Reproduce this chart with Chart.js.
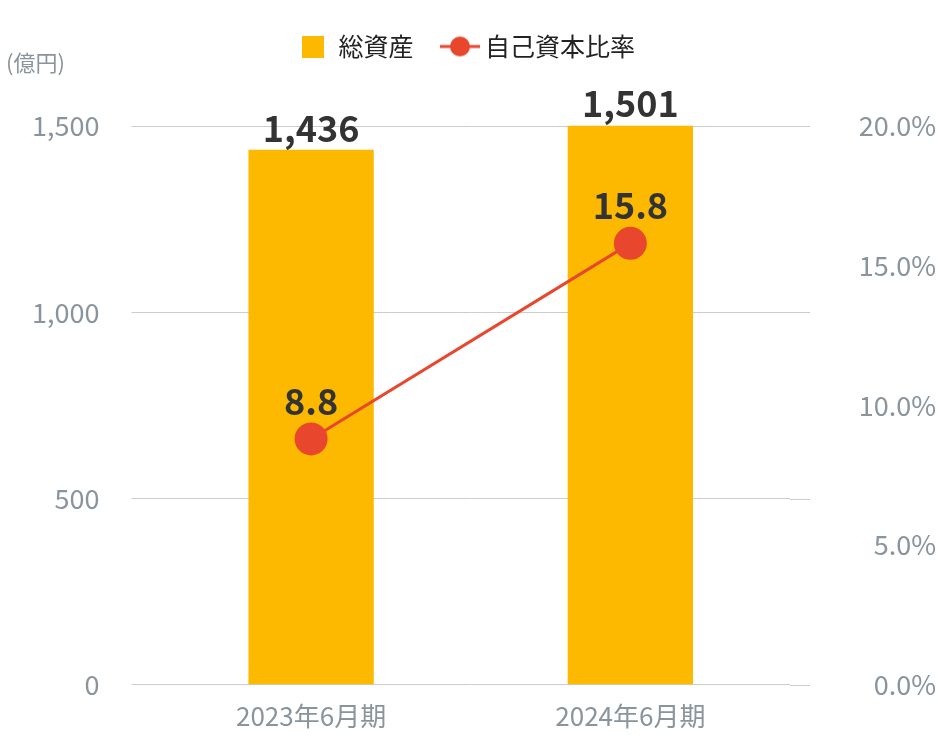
<!DOCTYPE html>
<html><head><meta charset="utf-8">
<script src="https://cdn.jsdelivr.net/npm/chart.js@4"></script>
<style>html,body{margin:0;background:#fff}#w{width:938px;height:740px}</style>
</head><body><div id="w"><canvas id="c"></canvas></div>
<script>
const categories = ["2023年6月期", "2024年6月期"];
const totalAssets = [1436, 1501];
const equityRatio = [8.8, 15.8];
const leftTicks = [0, 500, 1000, 1500];
const rightTicks = [0, 5, 10, 15, 20];
const F = "'Noto Sans CJK JP','Noto Sans',sans-serif";
const gray = "#8a949c";
const RED = "#E8472E";
const lineIcon = document.createElement("canvas");
lineIcon.width = 40; lineIcon.height = 22;
(() => { const c = lineIcon.getContext("2d"); c.strokeStyle = RED; c.lineWidth = 3; c.beginPath(); c.moveTo(0, 11); c.lineTo(40, 11); c.stroke(); c.fillStyle = RED; c.beginPath(); c.arc(20, 11, 10, 0, Math.PI * 2); c.fill(); })();
const rectIcon = document.createElement("canvas");
rectIcon.width = 22; rectIcon.height = 22;
(() => { const c = rectIcon.getContext("2d"); c.fillStyle = "#FDB900"; c.fillRect(0, 0, 22, 22); })();
const legendH = { id: "legendH", beforeInit(ch) { const f = ch.legend.fit; ch.legend.fit = function () { f.call(this); this.height = 126; }; } };
const labels = {
  id: "labels",
  afterDatasetsDraw(ch) {
    const ctx = ch.ctx;
    ctx.save();
    ctx.font = "bold 36px " + F;
    ctx.fillStyle = "#333";
    ctx.textAlign = "center";
    ctx.textBaseline = "bottom";
    ch.getDatasetMeta(0).data.forEach((b, i) => ctx.fillText(totalAssets[i].toLocaleString("en-US"), b.x, b.y - 4));
    ch.getDatasetMeta(1).data.forEach((p, i) => ctx.fillText(equityRatio[i].toFixed(1), p.x, p.y - 20));
    ctx.font = "22px " + F;
    ctx.fillStyle = gray;
    ctx.textAlign = "left";
    ctx.textBaseline = "middle";
    ctx.fillText("(億円)", 6, 63);
    ctx.restore();
  }
};
new Chart(document.getElementById("c"), {
  data: {
    labels: categories,
    datasets: [
      { type: "bar", label: "総資産", data: totalAssets, backgroundColor: "#FDB900", yAxisID: "y", barPercentage: 0.785, categoryPercentage: 0.5, order: 2, clip: false },
      { type: "line", label: "自己資本比率", data: equityRatio, borderColor: RED, backgroundColor: RED, borderWidth: 3, pointRadius: 15, pointHoverRadius: 15, yAxisID: "y1", order: 1, clip: false }
    ]
  },
  options: {
    responsive: true, maintainAspectRatio: false, animation: false,
    layout: { padding: { top: 0, left: 0, right: 2, bottom: 0 } },
    plugins: {
      tooltip: { enabled: false },
      legend: {
        position: "top", align: "center",
        labels: { usePointStyle: true, font: { size: 25, family: F }, color: "#222", padding: 34, generateLabels: ch => [
          { text: "総資産", pointStyle: rectIcon, datasetIndex: 0, fontColor: "#222" },
          { text: "自己資本比率", pointStyle: lineIcon, datasetIndex: 1, fontColor: "#222" }
        ] }
      }
    },
    scales: {
      x: { grid: { display: false }, border: { display: false }, ticks: { color: gray, font: { size: 26, family: F }, padding: 8 } },
      y: { position: "left", min: 0, max: 1500, afterBuildTicks: a => { a.ticks = leftTicks.map(v => ({ value: v })); },
        grid: { color: "#ccc", drawTicks: true, tickLength: 20 }, border: { display: false },
        ticks: { color: gray, font: { size: 27, family: F }, padding: 32, callback: v => v.toLocaleString("en-US") } },
      y1: { position: "right", min: 0, max: 20, afterBuildTicks: a => { a.ticks = rightTicks.map(v => ({ value: v })); },
        grid: { display: false, drawTicks: true, tickLength: 20, color: "#ccc" }, border: { display: false },
        afterFit: a => { a.width = 146; },
        ticks: { color: gray, font: { size: 27, family: F }, padding: 20, crossAlign: "far", callback: v => v.toFixed(1) + "%" } }
    }
  },
  plugins: [legendH, labels, {
    id: "rgrid", beforeDatasetsDraw(ch) {
      const { ctx, chartArea: a, scales: { y } } = ch;
      ctx.save(); ctx.strokeStyle = "#ccc"; ctx.lineWidth = 1;
      leftTicks.forEach(v => { const py = Math.round(y.getPixelForValue(v)) + 0.5; ctx.beginPath(); ctx.moveTo(a.right, py); ctx.lineTo(a.right + 20, py); ctx.stroke(); });
      ctx.restore();
    }
  }]
});
</script></body></html>
